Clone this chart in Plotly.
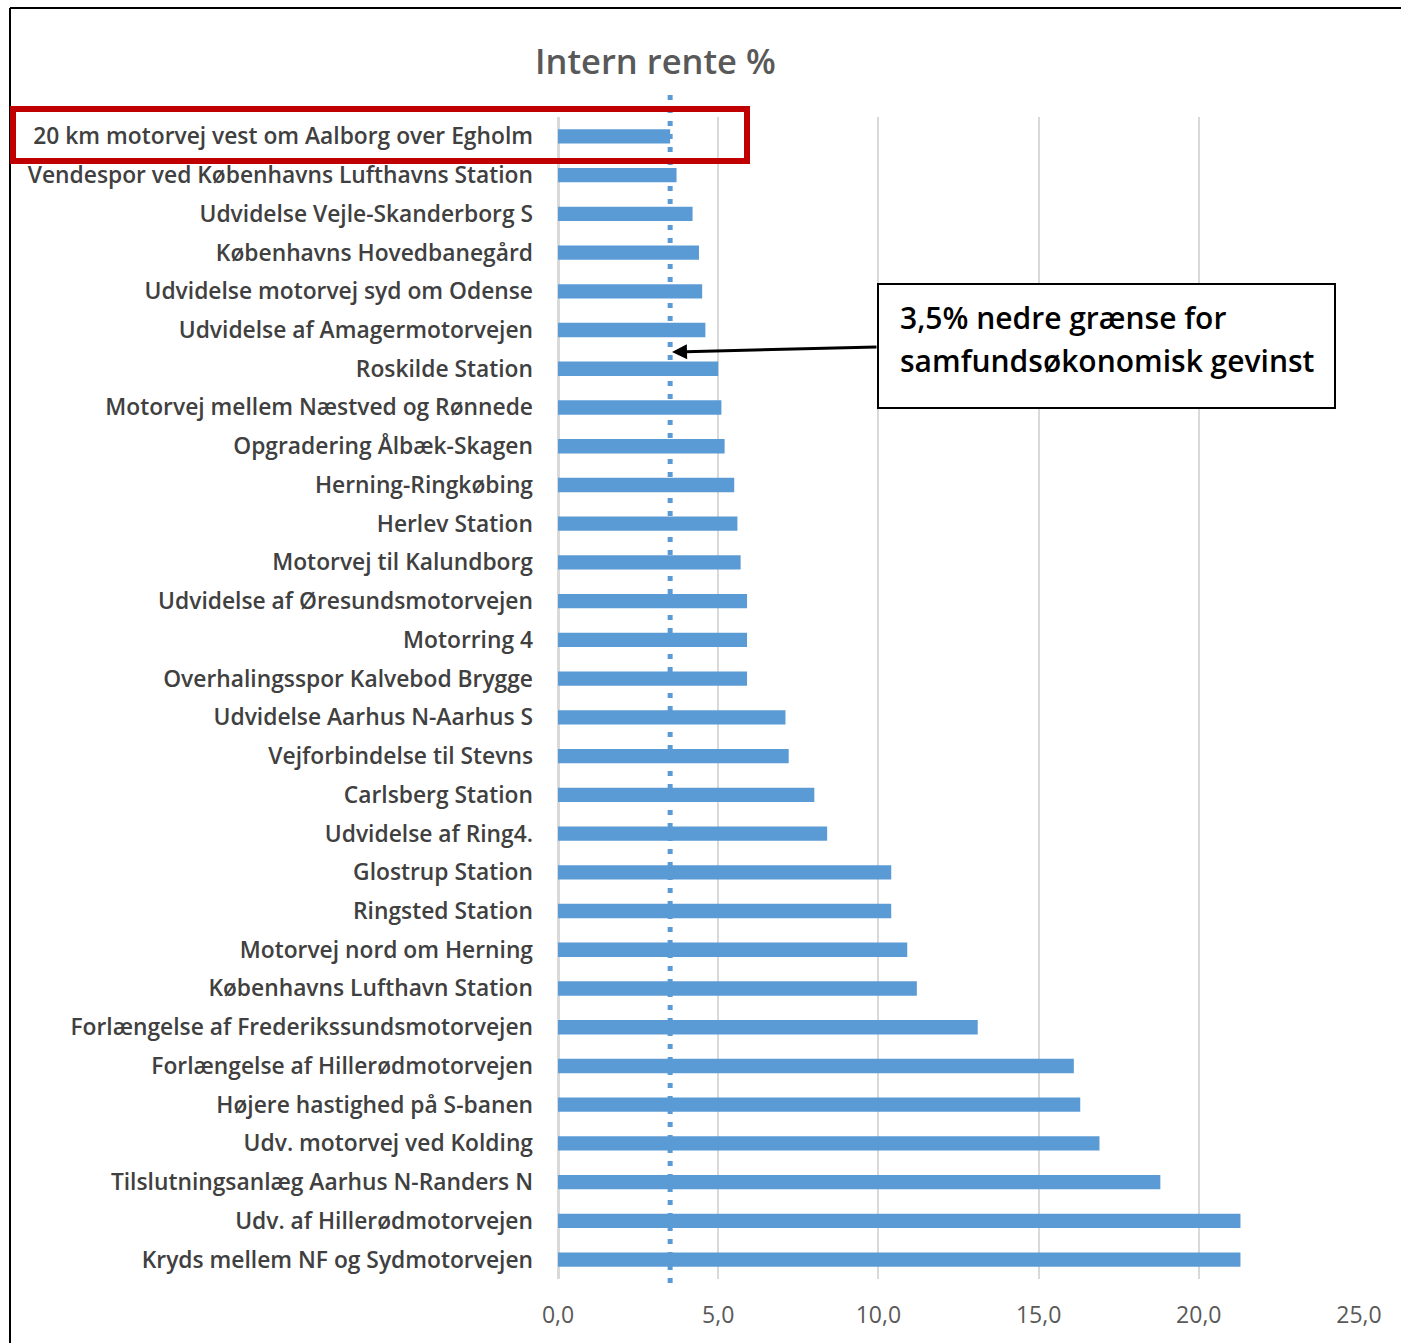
import plotly.graph_objects as go

# Projects and their internal rate of return (%)
projects = [
    "20 km motorvej vest om Aalborg over Egholm",
    "Vendespor ved Københavns Lufthavns Station",
    "Udvidelse Vejle-Skanderborg S",
    "Københavns Hovedbanegård",
    "Udvidelse motorvej syd om Odense",
    "Udvidelse af Amagermotorvejen",
    "Roskilde Station",
    "Motorvej mellem Næstved og Rønnede",
    "Opgradering Ålbæk-Skagen",
    "Herning-Ringkøbing",
    "Herlev Station",
    "Motorvej til Kalundborg",
    "Udvidelse af Øresundsmotorvejen",
    "Motorring 4",
    "Overhalingsspor Kalvebod Brygge",
    "Udvidelse Aarhus N-Aarhus S",
    "Vejforbindelse til Stevns",
    "Carlsberg Station",
    "Udvidelse af Ring4.",
    "Glostrup Station",
    "Ringsted Station",
    "Motorvej nord om Herning",
    "Københavns Lufthavn Station",
    "Forlængelse af Frederikssundsmotorvejen",
    "Forlængelse af Hillerødmotorvejen",
    "Højere hastighed på S-banen",
    "Udv. motorvej ved Kolding",
    "Tilslutningsanlæg Aarhus N-Randers N",
    "Udv. af Hillerødmotorvejen",
    "Kryds mellem NF og Sydmotorvejen",
]
intern_rente = [3.5, 3.7, 4.2, 4.4, 4.5, 4.6, 5.0, 5.1, 5.2, 5.5, 5.6, 5.7, 5.9, 5.9, 5.9,
                7.1, 7.2, 8.0, 8.4, 10.4, 10.4, 10.9, 11.2, 13.1, 16.1, 16.3, 16.9, 18.8,
                21.3, 21.3]
threshold = 3.5
title_text = "Intern rente %"
note_lines = ["3,5% nedre grænse for", "samfundsøkonomisk gevinst"]

W, H = 1401, 1343
ML, MR, MT, MB = 558, 42, 117, 64
PW, PH = W - ML - MR, H - MT - MB


def px(x):
    return (x - ML) / PW


def py(y):
    return (H - MB - y) / PH


BLUE = "#5B9BD5"
FONT = "Open Sans"

fig = go.Figure()
fig.add_trace(go.Bar(
    x=intern_rente, y=projects, orientation="h",
    marker=dict(color=BLUE, line=dict(width=0)),
    hoverinfo="x+y",
))

shapes = [
    # threshold line
    dict(type="line", xref="x", yref="paper", x0=threshold, x1=threshold,
         y0=py(95), y1=py(1290), line=dict(color=BLUE, width=5, dash="5px,8px")),
    # outer frame (left and top edges)
    dict(type="line", xref="paper", yref="paper", x0=px(10), x1=px(10),
         y0=py(8), y1=py(1343), line=dict(color="#000000", width=2)),
    dict(type="line", xref="paper", yref="paper", x0=px(10), x1=px(1401),
         y0=py(8), y1=py(8), line=dict(color="#000000", width=2)),
    # highlight around first project
    dict(type="rect", xref="paper", yref="paper", x0=px(13), x1=px(747),
         y0=py(109), y1=py(161), line=dict(color="#C00000", width=6)),
    # note box
    dict(type="rect", xref="paper", yref="paper", x0=px(878), x1=px(1335),
         y0=py(284), y1=py(408), line=dict(color="#000000", width=2),
         fillcolor="#FFFFFF", layer="above"),
]

annotations = [
    dict(text=title_text, xref="paper", yref="paper", x=px(655), y=py(60),
         xanchor="center", yanchor="middle", showarrow=False,
         font=dict(family=FONT, size=34.5, color="#595959", weight=600)),
    dict(text="", x=px(672), y=py(352), xref="paper", yref="paper",
         ax=206, ay=-5, axref="pixel", ayref="pixel",
         showarrow=True, arrowhead=2, arrowsize=1, arrowwidth=3, arrowcolor="#000000"),
]
# note text, one line per annotation
for line_text, line_y in zip(note_lines, [317, 360]):
    annotations.append(dict(
        text=line_text, xref="paper", yref="paper", x=px(898), y=py(line_y),
        xanchor="left", yanchor="middle", align="left", showarrow=False,
        font=dict(family=FONT, size=30, color="#000000", weight=600)))

fig.update_layout(
    width=W, height=H,
    margin=dict(l=ML, r=MR, t=MT, b=MB),
    paper_bgcolor="#FFFFFF", plot_bgcolor="#FFFFFF",
    bargap=0.63,
    showlegend=False,
    separators=", ",
    shapes=shapes,
    annotations=annotations,
    xaxis=dict(
        range=[0, 25], tickvals=[0, 5, 10, 15, 20, 25], tickformat=".1f",
        showgrid=True, gridcolor="#D9D9D9", gridwidth=2,
        zeroline=True, zerolinecolor="#D9D9D9", zerolinewidth=3,
        showline=False, ticks="", ticklabelstandoff=20,
        tickfont=dict(family=FONT, size=23, color="#595959"),
    ),
    yaxis=dict(
        type="category", categoryorder="array", categoryarray=projects,
        range=[len(projects) - 0.5, -0.5],
        showgrid=False, zeroline=False, showline=False, ticks="",
        ticklabelstandoff=24,
        tickfont=dict(family=FONT, size=22.8, color="#404040", weight=600),
    ),
)

fig.write_html("out.html")
